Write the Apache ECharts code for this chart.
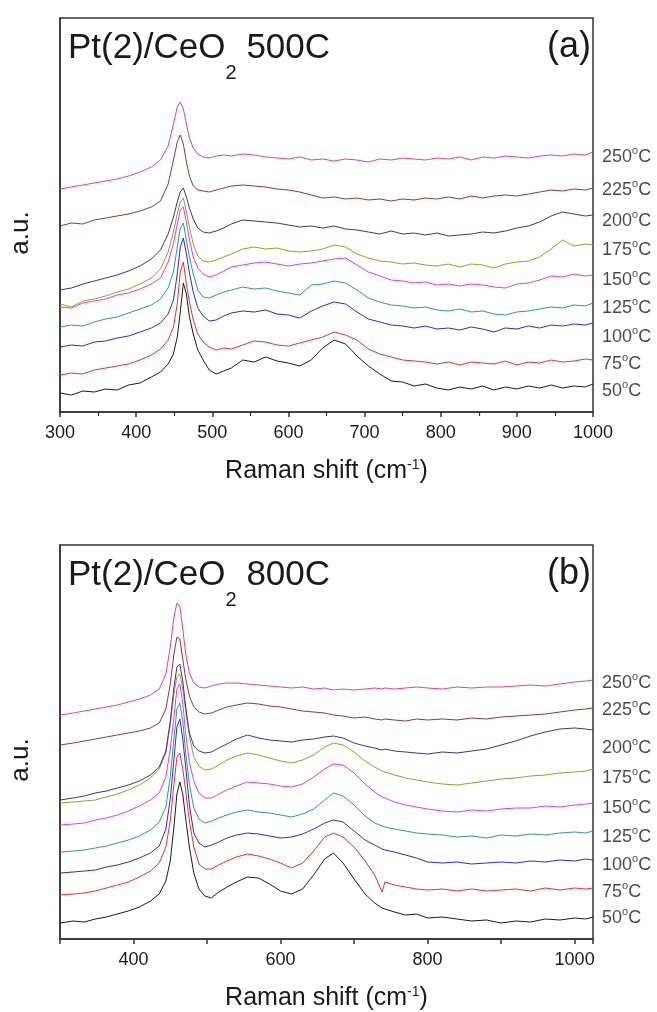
<!DOCTYPE html>
<html>
<head>
<meta charset="utf-8">
<script src="https://cdn.jsdelivr.net/npm/echarts@6/dist/echarts.min.js"></script>
<style>
  html, body { margin: 0; padding: 0; background: #fff; }
  #chart { width: 657px; height: 1012px; }
</style>
</head>
<body>
<div id="chart"></div>
<script>
// Raman shift grids (cm-1)
const xA = [300,315,330,345,360,375,390,405,420,432,442,449,454,458,462,466,470,475,481,488,496,505,515,525,540,555,570,585,600,615,630,645,660,675,690,705,720,735,750,765,780,795,810,825,840,855,870,885,900,915,930,945,960,975,990,1000];
const xB = [300,318,333,348,363,378,393,408,423,435,444,450,455,459,463,467,471,476,482,489,497,506,516,527,540,555,570,585,600,615,630,645,660,672,685,700,715,728,738,742,755,770,785,800,820,840,860,880,900,920,940,960,980,1000,1015,1025];

const temps = ['50', '75', '100', '125', '150', '175', '200', '225', '250'];

// (a) Pt(2)/CeO2 500C, stacked intensities (a.u.)
const a50  = [19,17,21,20,23,22,27,29,35,40,48,58,75,100,129,118,95,78,62,52,42,38,41,44,52,50,55,51,49,46,52,64,72,68,56,46,38,31,30,26,28,24,22,25,23,26,22,25,23,26,24,27,24,26,25,28];
const a75  = [37,39,38,42,44,46,48,52,57,63,72,85,108,140,150,128,110,92,78,70,65,62,64,63,67,71,70,67,66,69,72,75,80,77,72,63,58,55,52,51,50,48,50,47,50,49,48,51,47,50,49,52,50,51,53,52];
const a100 = [65,67,66,70,71,74,76,80,84,89,98,112,138,165,174,158,139,120,104,96,91,92,96,99,101,100,102,98,97,94,101,106,110,108,100,93,90,87,86,84,86,83,84,82,85,83,80,84,83,86,84,87,86,88,87,89];
const a125 = [85,87,86,90,93,95,99,103,107,113,124,140,165,184,189,172,155,138,122,115,114,117,120,122,125,123,124,121,119,117,127,128,131,129,122,114,110,107,106,104,105,102,101,103,100,101,98,97,100,101,103,105,104,107,106,109];
const a150 = [105,104,109,111,113,117,119,123,128,134,150,168,188,202,205,190,172,155,144,138,135,137,141,145,147,149,150,148,146,148,149,151,153,154,147,140,136,132,131,129,130,127,128,126,128,127,125,124,128,129,132,136,135,138,136,137];
const a175 = [108,105,111,113,116,120,123,128,134,143,160,180,198,210,214,200,185,168,156,151,150,152,155,158,163,165,163,164,161,160,161,163,167,165,158,154,151,150,148,149,147,146,148,145,148,147,144,148,150,151,155,163,172,166,168,167];
const a200 = [122,124,128,131,134,137,141,146,153,162,178,195,210,220,224,215,204,193,184,180,179,181,184,188,192,191,190,189,187,185,186,184,186,183,182,180,178,181,178,179,177,179,176,177,178,180,179,181,184,186,190,196,200,198,196,197];
const a225 = [186,189,188,192,194,196,198,201,205,211,228,252,270,277,268,250,236,226,222,221,220,222,224,226,227,226,225,223,222,220,217,214,215,213,214,212,213,211,213,212,214,213,215,213,216,214,216,217,216,218,220,222,221,223,222,224];
const a250 = [223,225,227,229,231,233,236,240,245,252,266,288,305,310,303,288,274,264,258,255,254,256,257,256,258,257,255,254,253,255,252,253,251,253,252,250,253,252,254,253,252,254,253,255,252,255,254,256,255,254,256,257,256,258,257,260];

// (b) Pt(2)/CeO2 800C
const b50  = [16,18,17,20,22,25,28,32,38,45,58,78,112,145,157,145,120,92,66,50,43,41,47,52,57,62,61,55,48,45,50,64,80,86,76,60,45,36,31,30,27,24,25,21,22,20,18,19,16,18,17,20,19,21,20,22];
const b75  = [44,45,46,48,51,54,57,62,68,76,92,118,155,182,186,170,148,118,92,75,70,70,74,78,82,85,83,80,76,71,76,88,102,106,102,92,78,64,47,57,54,52,50,49,50,48,50,48,49,50,48,51,49,51,50,51];
const b100 = [66,67,68,69,72,74,77,81,86,93,110,140,180,212,220,200,172,134,106,96,92,94,97,101,104,106,105,103,101,102,105,110,116,119,117,108,99,94,90,89,87,84,81,77,76,77,75,76,77,76,78,77,79,78,80,79];
const b125 = [87,88,89,91,93,96,99,103,109,117,132,162,200,230,236,218,186,155,131,120,116,118,121,124,127,129,127,126,124,122,125,130,139,146,143,134,123,116,113,112,110,108,106,105,104,102,103,101,104,103,105,104,106,107,106,108];
const b150 = [114,115,116,119,121,124,128,133,139,146,162,190,222,250,255,236,205,177,158,146,141,141,145,149,153,157,156,155,153,152,155,162,170,175,174,166,155,147,142,141,137,134,132,130,128,127,129,128,130,131,131,133,132,134,135,136];
const b175 = [136,137,138,139,142,145,149,154,161,170,186,214,245,262,265,250,228,203,182,173,169,170,174,179,183,186,184,181,178,176,179,184,192,196,194,187,178,172,168,167,164,161,159,157,155,154,156,158,160,161,163,164,166,167,168,170];
const b200 = [139,141,143,146,148,151,154,158,164,172,188,218,252,272,275,258,232,206,193,188,186,187,191,195,200,204,201,199,198,197,199,200,202,203,201,196,193,191,189,190,188,187,186,185,187,186,188,190,194,198,203,207,210,211,210,209];
const b225 = [194,196,198,200,202,204,206,208,211,216,230,255,285,302,300,280,260,243,232,227,225,226,229,232,234,236,235,233,232,230,228,227,226,224,223,221,222,220,219,220,219,218,220,219,220,219,221,220,222,223,224,225,227,229,230,231];
const b250 = [224,226,228,230,232,234,237,240,244,250,265,292,322,336,333,310,285,266,256,252,251,253,255,256,256,255,254,253,252,251,252,250,251,249,250,249,250,251,250,251,250,251,252,251,250,252,251,252,252,253,254,253,255,257,258,259];

// heights of the temperature labels on the right
const labelA = [21, 48, 75, 104, 132, 162, 191, 222, 255];
const labelB = [21, 47, 74, 102, 131, 161, 191, 229, 256];

const FONT = "'Liberation Sans', Arial, sans-serif";
const INK = '#1a1a1a';
const AXIS = '#333';
const colors = ['#1a1a1a', '#e8312f', '#2b2bd6', '#2e9a8e', '#e33de0', '#9c9c2c', '#353590', '#9b3535', '#ec3f97'];

const chart = echarts.init(document.getElementById('chart'), null, { renderer: 'canvas' });

function lines(xs, sets, panel) {
  return sets.map((ys, i) => ({
    type: 'line',
    xAxisIndex: panel,
    yAxisIndex: panel,
    data: xs.map((x, k) => [x, ys[k]]),
    symbol: 'none',
    lineStyle: { width: 1, color: colors[i] },
    itemStyle: { color: colors[i] },
    z: 2
  }));
}

function tempLabels(xmax, vals, panel) {
  return {
    type: 'scatter',
    xAxisIndex: panel,
    yAxisIndex: panel,
    symbolSize: 0,
    clip: false,
    silent: true,
    data: vals.map((v, i) => ({ name: temps[i], value: [xmax, v] })),
    label: {
      show: true,
      position: 'right',
      distance: 9,
      formatter: p => '{t|' + p.name + '}{s|o}{t|C}',
      rich: {
        t: { fontFamily: FONT, fontSize: 18, color: INK },
        s: { fontFamily: FONT, fontSize: 11, color: INK, padding: [0, 0, 12, 0] }
      }
    }
  };
}

function xAxis(panel, max, fmt, minor) {
  return {
    gridIndex: panel,
    type: 'value',
    min: 300,
    max: max,
    interval: 100,
    name: 'Raman shift (cm{s|-1})',
    nameLocation: 'middle',
    nameGap: 46,
    nameTextStyle: {
      fontFamily: FONT, fontSize: 25, color: INK,
      rich: { s: { fontFamily: FONT, fontSize: 14, color: INK, padding: [0, 0, 12, 0] } }
    },
    axisLine: { onZero: false, lineStyle: { color: AXIS, width: 1.5 } },
    axisTick: { length: 5, lineStyle: { color: AXIS, width: 1.5 } },
    minorTick: { show: minor, splitNumber: 2, length: 4, lineStyle: { color: AXIS, width: 1.2 } },
    axisLabel: { margin: 12, fontFamily: FONT, fontSize: 18, color: INK, formatter: fmt },
    splitLine: { show: false }
  };
}

function yAxis(panel) {
  return {
    gridIndex: panel,
    type: 'value',
    min: 0,
    max: 394,
    name: 'a.u.',
    nameLocation: 'middle',
    nameRotate: 90,
    nameGap: 26,
    nameTextStyle: { fontFamily: FONT, fontSize: 26, color: INK, padding: [0, 36, 0, 0] },
    axisLine: { lineStyle: { color: AXIS, width: 1.5 } },
    axisTick: { show: false },
    axisLabel: { show: false },
    splitLine: { show: false }
  };
}

function panelTitle(text, top) {
  return {
    left: 68, top: top, padding: 0,
    text: '{m|Pt(2)/CeO}{b|2}{m| ' + text + '}',
    textStyle: {
      fontWeight: 'normal',
      rich: {
        m: { fontFamily: FONT, fontSize: 35, fontWeight: 'normal', color: INK, lineHeight: 40 },
        b: { fontFamily: FONT, fontSize: 20, fontWeight: 'normal', color: INK, lineHeight: 20, padding: [50, 0, 0, 0] }
      }
    }
  };
}

function panelTag(text, top) {
  return {
    right: 66, top: top, padding: 0,
    text: text,
    textStyle: { fontFamily: FONT, fontSize: 36, fontWeight: 'normal', color: INK, lineHeight: 40 }
  };
}

chart.setOption({
  animation: false,
  backgroundColor: '#fff',
  title: [
    panelTitle('500C', 28),
    panelTag('(a)', 27),
    panelTitle('800C', 555),
    panelTag('(b)', 554)
  ],
  grid: [
    { left: 59, top: 18, width: 534, height: 394, show: true, borderColor: AXIS, borderWidth: 1.5 },
    { left: 59, top: 545, width: 534, height: 394, show: true, borderColor: AXIS, borderWidth: 1.5 }
  ],
  xAxis: [
    xAxis(0, 1000, v => String(v), true),
    xAxis(1, 1025, v => (v % 200 === 0 ? String(v) : ''), false)
  ],
  yAxis: [yAxis(0), yAxis(1)],
  series: [
    ...lines(xA, [a50, a75, a100, a125, a150, a175, a200, a225, a250], 0),
    ...lines(xB, [b50, b75, b100, b125, b150, b175, b200, b225, b250], 1),
    tempLabels(1000, labelA, 0),
    tempLabels(1025, labelB, 1)
  ]
});
</script>
</body>
</html>
